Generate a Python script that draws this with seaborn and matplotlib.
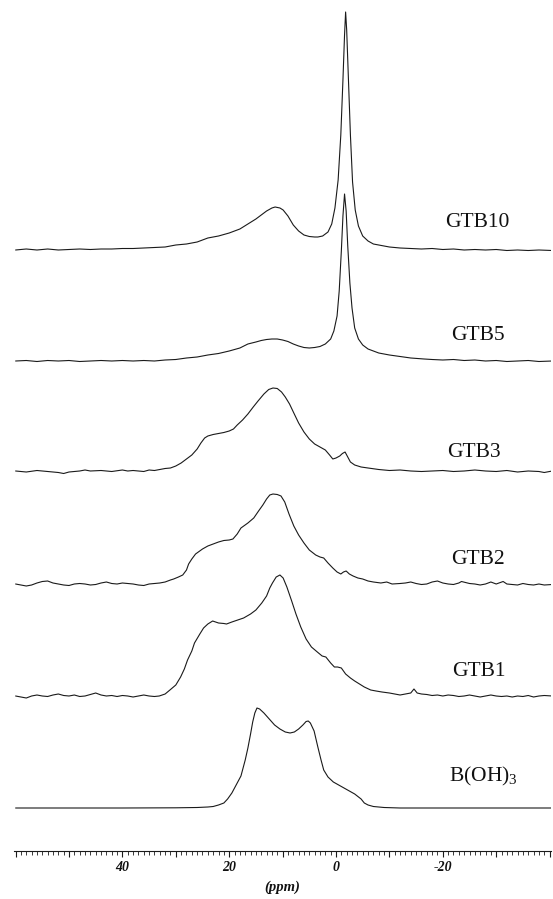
import numpy as np
import pandas as pd
import matplotlib
matplotlib.use("Agg")
import matplotlib.pyplot as plt
import seaborn as sns
from matplotlib.ticker import MultipleLocator

# ---------------- data ----------------
sample_names = ["GTB10", "GTB5", "GTB3", "GTB2", "GTB1", "B(OH)$_3$"]

gtb10_ppm = [60, 58, 56, 54, 52, 50, 48, 46, 44, 42, 40, 38, 36, 34, 32, 30, 28, 26, 24, 22, 20, 18,
             16.5, 15, 14, 13, 12, 11.4, 10.5, 9.9, 9, 8, 7, 6, 5, 4, 3.4, 2.5, 1.5, 0.8, 0.2, -0.4,
             -0.9, -1.3, -1.6, -1.8, -2.0, -2.3, -2.7, -3.1, -3.6, -4.2, -5, -6, -7, -8.5, -10, -12,
             -14, -16, -18, -20, -22, -24, -26, -28, -30, -32, -34, -36, -38, -40.5]
gtb10_int = [0, 1, 0, 1, 0, 0.5, 1, 0.5, 1, 1, 1.5, 1.5, 2, 2.5, 3, 5, 6, 8, 12, 14, 17, 21,
             26, 31, 35, 39, 42, 43, 42, 40, 34, 25, 19, 15, 13.5, 13, 13, 14, 18, 26, 42, 70,
             115, 170, 215, 238, 220, 175, 115, 68, 40, 24, 14, 9, 6, 4.5, 3, 2,
             1.5, 1, 1.5, 0.5, 1, 0, 0.5, 0, 0.5, -0.5, 0, -0.5, 0, -0.5]

gtb5_ppm = [60, 58, 56, 54, 52, 50, 48, 46, 44, 42, 40, 38, 36, 34, 32, 30, 28, 26, 24, 22, 20, 18,
            16.5, 15, 14, 13, 12, 11, 10, 9, 8, 7, 6, 5, 4, 3, 2, 1, 0.4, -0.2, -0.6, -1.0, -1.3,
            -1.6, -1.9, -2.2, -2.6, -3.0, -3.5, -4.2, -5, -6, -7, -8, -10, -12, -14, -16.5, -18,
            -20, -22, -24, -26, -28, -30, -32, -34, -36, -38, -40.5]
gtb5_int = [0, 0.5, -0.5, 0.5, 0, 0.5, -0.5, 0, 0.5, 0, 0.5, 0, 0.5, 0, 1, 1.5, 3, 4, 6, 7.5, 10, 13,
            17, 19, 20.5, 21.5, 22, 22, 21, 19.5, 17, 15, 13.5, 13, 13.5, 14.5, 17, 22, 30, 45, 70, 110, 145,
            167, 150, 115, 78, 53, 33, 22, 16, 12, 10, 8, 6, 4.5, 3, 2, 1.5,
            1, 1.5, 0.5, 1, 0, 0.5, -0.5, 0, 0.5, -0.5, 0]

gtb3_ppm = [60, 58, 56, 54, 52, 51, 50, 48, 47, 46, 44, 42, 40, 39, 38, 36, 35, 34, 33, 32, 31, 30,
            29, 28, 27, 26, 25.3, 24.6, 24, 23, 22, 21, 20, 19.2, 18.5, 17.5, 16.5, 15.5, 14.6, 13.5,
            12.6, 11.8, 11, 10.2, 9.5, 8.7, 7.9, 7, 6, 5, 4, 3, 2, 1.2, 0.6, 0, -0.7, -1.2, -1.7,
            -2.2, -2.7, -3.5, -4.7, -6, -8, -10, -12, -14, -16, -18, -20, -22, -24, -26, -28, -30,
            -32, -34, -36, -38, -39, -40.5]
gtb3_int = [0, -1, 0.5, -0.5, -1.5, -2.5, -1, 0, 1, 0, 0.5, -0.5, 1, 0, 0.5, -0.5, 1, 0.5, 1.5, 2.5, 3, 5,
            8, 12, 16, 22, 28, 33, 35, 36.5, 37.5, 38.5, 40, 42, 46, 51, 57, 64, 70, 77,
            81.5, 83, 82.5, 79, 74, 67, 58, 48, 39, 32, 27, 24, 21, 16, 12, 13, 15, 17.5, 19,
            14, 9, 6, 4, 3, 1.5, 0.5, 1, 0, -0.5, 0, 0.5, -0.5, 0, 1, 0, -0.5,
            0.5, -1, 0, -0.5, -1.5, 0]

gtb2_ppm = [60, 59, 58, 57, 56, 55, 54, 53, 52, 51, 50, 49, 48, 47, 46, 45, 44, 43, 42, 41, 40, 39,
            38, 37, 36, 35, 34, 33, 32, 31, 30.4, 29.5, 28.7, 28, 27.6, 27, 26.3, 25, 24, 23, 22, 21,
            20, 19.3, 18.5, 17.8, 16.5, 15.4, 14.5, 13.7, 13, 12.4, 11.8, 11, 10.3, 9.6, 8.8, 7.9,
            7, 6, 5, 3.8, 3, 2.3, 1.5, 0.6, -0.2, -0.9, -1.4, -1.9, -2.5, -3.2, -4.1, -5, -6, -7,
            -8.4, -9.5, -10.5, -12, -13, -14, -15, -16, -17, -18, -19, -20, -21, -22, -23, -23.5,
            -25, -26, -27, -28, -29, -30, -31.3, -32, -33, -34, -35, -36, -37, -38, -39, -40.5]
gtb2_int = [0, -1, -2, -1, 1, 2.5, 3, 1, 0, -1, -1.5, 0, 0.5, 0, -1, -0.5, 1, 2, 0.5, 0, 1, 0.5,
            0, -1, -1.5, 0, 0.5, 1, 2, 4, 5, 7, 9, 14, 20, 25, 30, 35, 38, 40, 42, 43.5,
            44, 45, 50, 56, 61, 66, 73, 79, 85, 89, 90, 89.5, 88, 82, 70, 58,
            49, 41, 34, 29, 27, 26, 21, 16, 12, 10, 12, 13, 10, 8, 6, 5, 3, 2,
            1, 2, 0, 0.5, 1, 2, 0.5, -0.5, 0, 2, 3, 1, 0, -0.5, 1, 2.5,
            0.5, 0, -1, 0, 2, 0, 2.5, 0, -0.5, -1, 0.5, -0.5, -1, 0, -1, -0.5]

gtb1_ppm = [60, 59, 58, 57, 56, 55, 54, 53, 52, 51, 50, 49, 48, 47, 46, 45, 44, 43, 42, 41, 40, 39,
            38, 37, 36, 35, 34, 33.1, 32, 31.1, 30, 29.1, 28.4, 27.8, 27, 26.5, 25.5, 24.8, 24, 23.1,
            22, 21, 20.5, 19.5, 18.4, 17.3, 16, 15, 13.9, 13, 12.4, 11.9, 11.2, 10.5, 9.9, 9.2, 8.3,
            7.5, 6.6, 5.6, 4.6, 3.5, 2.6, 1.9, 1, 0.3, -0.3, -1, -1.8, -2.7, -3.5, -4.4, -5.3, -6.5,
            -7.5, -8.6, -10, -11, -12, -13, -14, -14.6, -15.2, -16, -17, -18, -19, -20, -21, -22,
            -23, -24, -25, -26, -27, -28, -29, -30, -31, -32, -33, -34, -35, -36, -37, -38, -39, -40.5]
gtb1_int = [0, -1, -2, 0, 1, 0, -0.5, 1, 2, 0.5, 0, 1, -0.5, 0, 1.5, 3, 1, 0, 0.5, -0.5, 0.5, 0,
            -1, 0, 1, 0, -0.5, 0, 2, 6, 11, 19, 27, 36, 45, 53, 62, 68, 72, 75,
            73, 72.5, 72, 74, 76, 78, 82, 86, 93, 100, 108, 113, 119, 121, 118, 109, 95,
            82, 69, 57, 49, 44, 40, 39, 33, 29, 29, 28, 22, 18, 15, 12, 9, 6,
            5, 4, 3, 2, 1, 2, 3, 7, 3, 2, 1.5, 0.5, 1, 0, 1, 0.5,
            -0.5, 0, 1, 0, -1, 0, 1, 0, -0.5, 0, -1, 0, -0.5, 0.5, -1, 0, 0.5, 0]

boh3_ppm = [60, 50, 40, 30, 26, 24, 23, 22, 21, 20.3, 19.5, 18.8, 17.8, 17, 16.5, 16, 15.6, 15.2,
            14.8, 14.3, 13.5, 12.5, 11.5, 10.5, 9.5, 8.6, 7.8, 7, 6.2, 5.6, 5.2, 4.8, 4.1, 3.4, 2.8,
            2.3, 1.5, 0.5, -0.5, -1.5, -2.5, -3.5, -4.7, -5.3, -6, -7, -9, -12, -20, -30, -40.5]
boh3_int = [0, 0, 0, 0.2, 0.5, 1, 1.5, 3, 5, 9, 15, 22, 32, 48, 60, 74, 86, 95,
            100, 99, 95, 89, 83, 79, 76, 75, 76, 79, 83, 86.5, 87, 85, 77, 61, 48,
            38, 31, 26, 23, 20, 17, 14, 9, 5, 3, 1.5, 0.5, 0, 0, 0, 0]

tick_values = [40, 20, 0, -20]
tick_labels = ["40", "20", "0", "-20"]
x_label = "(ppm)"

spectra_ppm = [gtb10_ppm, gtb5_ppm, gtb3_ppm, gtb2_ppm, gtb1_ppm, boh3_ppm]
spectra_int = [gtb10_int, gtb5_int, gtb3_int, gtb2_int, gtb1_int, boh3_int]

# ---------------- layout (pixels of the 553x899 canvas) ----------------
AX_PIX = 851.0                                   # axis line row
baseline_px = [250, 361, 471, 584, 696, 808]     # row of each trace baseline
label_left_px = [445, 451, 447, 451, 452, 449]
label_base_px = [227, 340, 457, 564, 676, 781]
PX_PER_PPM = 5.34
ZERO_PX = 336.0


def px_to_ppm(px):
    return (ZERO_PX - px) / PX_PER_PPM


frames = []
for name, ppm, inten, base in zip(sample_names, spectra_ppm, spectra_int, baseline_px):
    frames.append(pd.DataFrame({"sample": name, "ppm": ppm,
                                "signal": np.asarray(inten, float) + (AX_PIX - base)}))
df = pd.concat(frames, ignore_index=True)

# ---------------- drawing ----------------
sns.set_theme(style="white")
plt.rcParams["font.family"] = ["Liberation Serif", "DejaVu Serif"]
plt.rcParams["mathtext.fontset"] = "custom"
plt.rcParams["mathtext.rm"] = "Liberation Serif"
plt.rcParams["mathtext.it"] = "Liberation Serif:italic"

W, H = 553, 899
fig = plt.figure(figsize=(W / 100, H / 100), dpi=100)
ax = fig.add_axes([14 / W, (H - AX_PIX) / H, 537 / W, AX_PIX / H])

sns.lineplot(data=df, x="ppm", y="signal", units="sample", estimator=None,
             sort=True, color="#1a1a1a", linewidth=0.8, legend=False, ax=ax)

ax.set_xlim(px_to_ppm(14), px_to_ppm(551))
ax.set_ylim(0, AX_PIX)

major = np.arange(-40, 61, 10)
ax.set_xticks(major, labels=[tick_labels[tick_values.index(v)] if v in tick_values else ""
                             for v in major])
ax.xaxis.set_minor_locator(MultipleLocator(1))
ax.tick_params(axis="x", which="major", direction="out", length=4.5, width=0.8,
               color="#1a1a1a", bottom=True, pad=2.5, labelsize=10)
ax.tick_params(axis="x", which="minor", direction="out", length=2.8, width=0.6,
               color="#1a1a1a", bottom=True)
for t in ax.get_xticklabels():
    t.set_fontstyle("italic")
    t.set_fontweight("bold")
    t.set_color("#111111")
ax.set_yticks([])
ax.set_xlabel(x_label, fontsize=10.5, fontstyle="italic", fontweight="bold",
              color="#111111", labelpad=5)
ax.set_ylabel("")
for s in ["left", "right", "top"]:
    ax.spines[s].set_visible(False)
ax.spines["bottom"].set_color("#1a1a1a")
ax.spines["bottom"].set_linewidth(0.8)
ax.patch.set_alpha(0)
ax.grid(False)

for name, lx, ly in zip(sample_names, label_left_px, label_base_px):
    ax.text(px_to_ppm(lx), AX_PIX - ly, name, ha="left", va="baseline",
            fontsize=15.5, color="#111111")

fig.savefig("out.png", dpi=100, facecolor="white")
